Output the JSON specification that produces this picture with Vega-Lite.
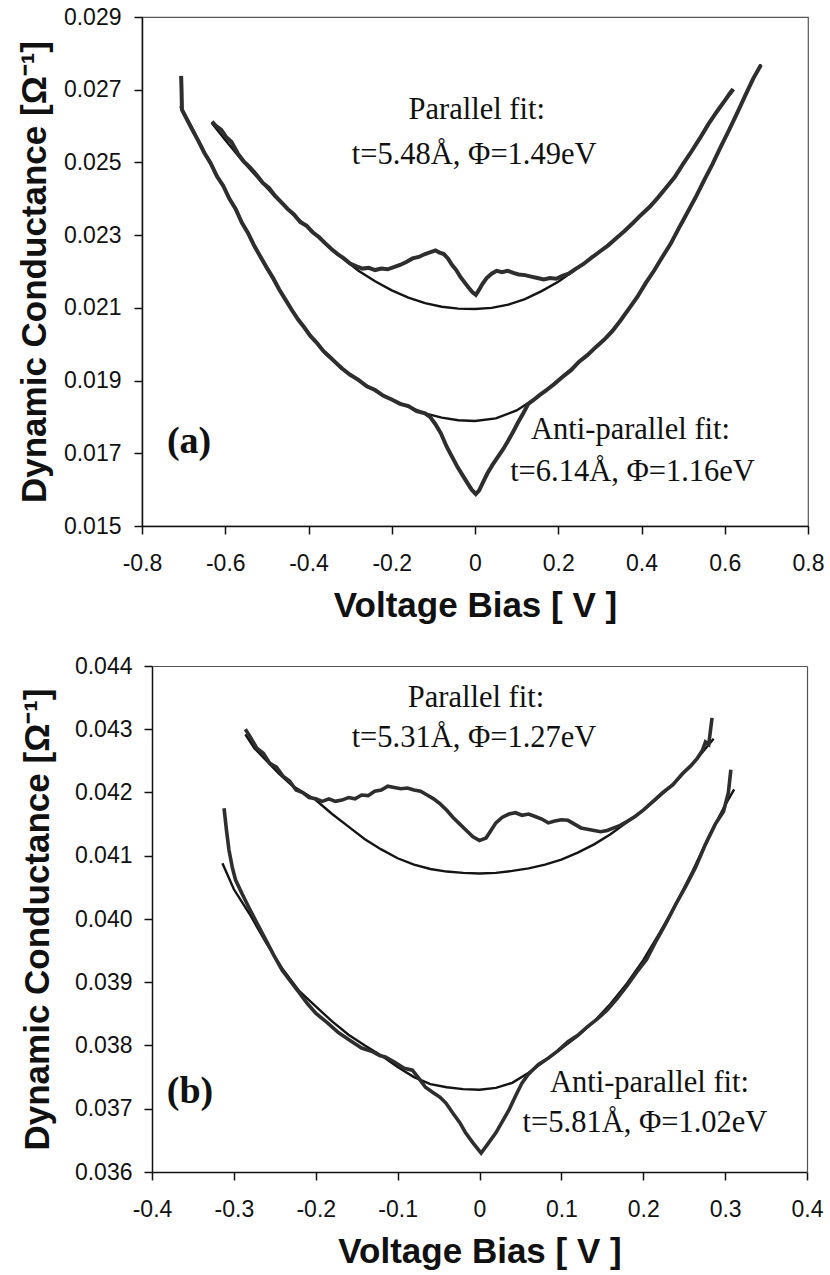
{
  "$schema": "https://vega.github.io/schema/vega-lite/v6.json",
  "background": "white",
  "padding": {"left": 16, "top": 5, "right": 5, "bottom": 5},
  "spacing": 31,
  "config": {
    "font": "Liberation Sans",
    "view": {"stroke": "#555", "strokeWidth": 1.2},
    "axis": {"grid": false, "domainColor": "#111", "domainWidth": 1.5, "tickColor": "#111", "tickWidth": 1.5, "tickSize": 8, "labelFont": "Liberation Sans", "labelFontSize": 23, "labelColor": "#111", "labelFlush": false, "labelOverlap": false, "titleFont": "Liberation Sans", "titleFontSize": 35, "titleFontWeight": "bold", "titleColor": "#111"},
    "axisX": {"labelPadding": 18, "titlePadding": 13},
    "axisY": {"labelPadding": 13, "titlePadding": 11}
  },
  "datasets": {
    "a": [
      {"s":"P","k":"fit","v":-0.632,"g":0.02608},{"s":"P","k":"fit","v":-0.6,"g":0.02562},{"s":"P","k":"fit","v":-0.56,"g":0.02506},{"s":"P","k":"fit","v":-0.52,"g":0.02455},{"s":"P","k":"fit","v":-0.48,"g":0.02405},{"s":"P","k":"fit","v":-0.44,"g":0.0236},{"s":"P","k":"fit","v":-0.4,"g":0.0232},{"s":"P","k":"fit","v":-0.36,"g":0.02276},{"s":"P","k":"fit","v":-0.32,"g":0.02238},{"s":"P","k":"fit","v":-0.28,"g":0.02202},{"s":"P","k":"fit","v":-0.24,"g":0.02173},{"s":"P","k":"fit","v":-0.2,"g":0.02148},{"s":"P","k":"fit","v":-0.16,"g":0.02128},{"s":"P","k":"fit","v":-0.12,"g":0.02113},{"s":"P","k":"fit","v":-0.08,"g":0.02103},{"s":"P","k":"fit","v":-0.04,"g":0.02098},{"s":"P","k":"fit","v":0,"g":0.02097},{"s":"P","k":"fit","v":0.04,"g":0.021},{"s":"P","k":"fit","v":0.08,"g":0.02109},{"s":"P","k":"fit","v":0.12,"g":0.02124},{"s":"P","k":"fit","v":0.16,"g":0.02146},{"s":"P","k":"fit","v":0.2,"g":0.02172},{"s":"P","k":"fit","v":0.24,"g":0.02204},{"s":"P","k":"fit","v":0.28,"g":0.02238},{"s":"P","k":"fit","v":0.32,"g":0.02273},{"s":"P","k":"fit","v":0.36,"g":0.02312},{"s":"P","k":"fit","v":0.4,"g":0.02355},{"s":"P","k":"fit","v":0.44,"g":0.02405},{"s":"P","k":"fit","v":0.48,"g":0.02462},{"s":"P","k":"fit","v":0.52,"g":0.0253},{"s":"P","k":"fit","v":0.56,"g":0.02605},{"s":"P","k":"fit","v":0.6,"g":0.02668},{"s":"P","k":"fit","v":0.622,"g":0.027},
      {"s":"Pd","k":"data","v":-0.632,"g":0.02612},{"s":"Pd","k":"data","v":-0.622,"g":0.026},{"s":"Pd","k":"data","v":-0.61,"g":0.0259},{"s":"Pd","k":"data","v":-0.598,"g":0.0257},{"s":"Pd","k":"data","v":-0.585,"g":0.02556},{"s":"Pd","k":"data","v":-0.57,"g":0.02525},{"s":"Pd","k":"data","v":-0.555,"g":0.02502},{"s":"Pd","k":"data","v":-0.54,"g":0.02486},{"s":"Pd","k":"data","v":-0.525,"g":0.02466},{"s":"Pd","k":"data","v":-0.51,"g":0.02444},{"s":"Pd","k":"data","v":-0.495,"g":0.0243},{"s":"Pd","k":"data","v":-0.48,"g":0.02408},{"s":"Pd","k":"data","v":-0.465,"g":0.0239},{"s":"Pd","k":"data","v":-0.45,"g":0.02372},{"s":"Pd","k":"data","v":-0.435,"g":0.02357},{"s":"Pd","k":"data","v":-0.42,"g":0.02336},{"s":"Pd","k":"data","v":-0.405,"g":0.02326},{"s":"Pd","k":"data","v":-0.39,"g":0.02308},{"s":"Pd","k":"data","v":-0.375,"g":0.02295},{"s":"Pd","k":"data","v":-0.36,"g":0.02278},{"s":"Pd","k":"data","v":-0.345,"g":0.02262},{"s":"Pd","k":"data","v":-0.33,"g":0.02248},{"s":"Pd","k":"data","v":-0.315,"g":0.02236},{"s":"Pd","k":"data","v":-0.3,"g":0.02222},{"s":"Pd","k":"data","v":-0.285,"g":0.02214},{"s":"Pd","k":"data","v":-0.27,"g":0.02208},{"s":"Pd","k":"data","v":-0.255,"g":0.0221},{"s":"Pd","k":"data","v":-0.24,"g":0.02204},{"s":"Pd","k":"data","v":-0.225,"g":0.02208},{"s":"Pd","k":"data","v":-0.21,"g":0.02206},{"s":"Pd","k":"data","v":-0.195,"g":0.02212},{"s":"Pd","k":"data","v":-0.18,"g":0.02218},{"s":"Pd","k":"data","v":-0.165,"g":0.02226},{"s":"Pd","k":"data","v":-0.15,"g":0.02236},{"s":"Pd","k":"data","v":-0.135,"g":0.0224},{"s":"Pd","k":"data","v":-0.12,"g":0.02248},{"s":"Pd","k":"data","v":-0.105,"g":0.02254},{"s":"Pd","k":"data","v":-0.095,"g":0.02258},{"s":"Pd","k":"data","v":-0.085,"g":0.02252},{"s":"Pd","k":"data","v":-0.075,"g":0.02248},{"s":"Pd","k":"data","v":-0.065,"g":0.02236},{"s":"Pd","k":"data","v":-0.055,"g":0.02218},{"s":"Pd","k":"data","v":-0.045,"g":0.02204},{"s":"Pd","k":"data","v":-0.035,"g":0.02185},{"s":"Pd","k":"data","v":-0.025,"g":0.0217},{"s":"Pd","k":"data","v":-0.015,"g":0.02155},{"s":"Pd","k":"data","v":-0.006,"g":0.02143},{"s":"Pd","k":"data","v":0.002,"g":0.02136},{"s":"Pd","k":"data","v":0.01,"g":0.0215},{"s":"Pd","k":"data","v":0.018,"g":0.02166},{"s":"Pd","k":"data","v":0.028,"g":0.02182},{"s":"Pd","k":"data","v":0.04,"g":0.02194},{"s":"Pd","k":"data","v":0.052,"g":0.02202},{"s":"Pd","k":"data","v":0.065,"g":0.02198},{"s":"Pd","k":"data","v":0.078,"g":0.02202},{"s":"Pd","k":"data","v":0.092,"g":0.02196},{"s":"Pd","k":"data","v":0.105,"g":0.02192},{"s":"Pd","k":"data","v":0.12,"g":0.0219},{"s":"Pd","k":"data","v":0.135,"g":0.02186},{"s":"Pd","k":"data","v":0.15,"g":0.02182},{"s":"Pd","k":"data","v":0.165,"g":0.02178},{"s":"Pd","k":"data","v":0.18,"g":0.02182},{"s":"Pd","k":"data","v":0.195,"g":0.0218},{"s":"Pd","k":"data","v":0.21,"g":0.02188},{"s":"Pd","k":"data","v":0.225,"g":0.02194},{"s":"Pd","k":"data","v":0.24,"g":0.02206},{"s":"Pd","k":"data","v":0.26,"g":0.0222},{"s":"Pd","k":"data","v":0.28,"g":0.02238},{"s":"Pd","k":"data","v":0.3,"g":0.02255},{"s":"Pd","k":"data","v":0.32,"g":0.02272},{"s":"Pd","k":"data","v":0.34,"g":0.02292},{"s":"Pd","k":"data","v":0.36,"g":0.02312},{"s":"Pd","k":"data","v":0.38,"g":0.02334},{"s":"Pd","k":"data","v":0.4,"g":0.02357},{"s":"Pd","k":"data","v":0.42,"g":0.02378},{"s":"Pd","k":"data","v":0.44,"g":0.02404},{"s":"Pd","k":"data","v":0.46,"g":0.02432},{"s":"Pd","k":"data","v":0.48,"g":0.0246},{"s":"Pd","k":"data","v":0.5,"g":0.02496},{"s":"Pd","k":"data","v":0.52,"g":0.0253},{"s":"Pd","k":"data","v":0.54,"g":0.02566},{"s":"Pd","k":"data","v":0.56,"g":0.02604},{"s":"Pd","k":"data","v":0.58,"g":0.02638},{"s":"Pd","k":"data","v":0.6,"g":0.0267},{"s":"Pd","k":"data","v":0.612,"g":0.0269},{"s":"Pd","k":"data","v":0.62,"g":0.02702},
      {"s":"A","k":"fit","v":-0.708,"g":0.02655},{"s":"A","k":"fit","v":-0.68,"g":0.02595},{"s":"A","k":"fit","v":-0.64,"g":0.02505},{"s":"A","k":"fit","v":-0.6,"g":0.02424},{"s":"A","k":"fit","v":-0.56,"g":0.02336},{"s":"A","k":"fit","v":-0.52,"g":0.02248},{"s":"A","k":"fit","v":-0.48,"g":0.02168},{"s":"A","k":"fit","v":-0.44,"g":0.02093},{"s":"A","k":"fit","v":-0.4,"g":0.0203},{"s":"A","k":"fit","v":-0.36,"g":0.01975},{"s":"A","k":"fit","v":-0.32,"g":0.01932},{"s":"A","k":"fit","v":-0.28,"g":0.019},{"s":"A","k":"fit","v":-0.24,"g":0.01872},{"s":"A","k":"fit","v":-0.2,"g":0.01847},{"s":"A","k":"fit","v":-0.16,"g":0.01828},{"s":"A","k":"fit","v":-0.12,"g":0.0181},{"s":"A","k":"fit","v":-0.08,"g":0.01798},{"s":"A","k":"fit","v":-0.04,"g":0.01791},{"s":"A","k":"fit","v":0,"g":0.01789},{"s":"A","k":"fit","v":0.05,"g":0.01796},{"s":"A","k":"fit","v":0.1,"g":0.01818},{"s":"A","k":"fit","v":0.15,"g":0.01855},{"s":"A","k":"fit","v":0.2,"g":0.01902},{"s":"A","k":"fit","v":0.25,"g":0.0195},{"s":"A","k":"fit","v":0.3,"g":0.02},{"s":"A","k":"fit","v":0.35,"g":0.02065},{"s":"A","k":"fit","v":0.4,"g":0.02148},{"s":"A","k":"fit","v":0.45,"g":0.02238},{"s":"A","k":"fit","v":0.5,"g":0.02337},{"s":"A","k":"fit","v":0.55,"g":0.02448},{"s":"A","k":"fit","v":0.6,"g":0.02565},{"s":"A","k":"fit","v":0.65,"g":0.02686},{"s":"A","k":"fit","v":0.687,"g":0.0277},
      {"s":"Ad","k":"data","v":-0.706,"g":0.02738},{"s":"Ad","k":"data","v":-0.705,"g":0.027},{"s":"Ad","k":"data","v":-0.704,"g":0.02645},{"s":"Ad","k":"data","v":-0.695,"g":0.02625},{"s":"Ad","k":"data","v":-0.68,"g":0.02592},{"s":"Ad","k":"data","v":-0.665,"g":0.0256},{"s":"Ad","k":"data","v":-0.65,"g":0.02526},{"s":"Ad","k":"data","v":-0.635,"g":0.02498},{"s":"Ad","k":"data","v":-0.62,"g":0.02462},{"s":"Ad","k":"data","v":-0.605,"g":0.02436},{"s":"Ad","k":"data","v":-0.59,"g":0.024},{"s":"Ad","k":"data","v":-0.575,"g":0.02372},{"s":"Ad","k":"data","v":-0.56,"g":0.02334},{"s":"Ad","k":"data","v":-0.545,"g":0.02305},{"s":"Ad","k":"data","v":-0.53,"g":0.0227},{"s":"Ad","k":"data","v":-0.515,"g":0.0224},{"s":"Ad","k":"data","v":-0.5,"g":0.0221},{"s":"Ad","k":"data","v":-0.485,"g":0.02182},{"s":"Ad","k":"data","v":-0.47,"g":0.0215},{"s":"Ad","k":"data","v":-0.455,"g":0.02122},{"s":"Ad","k":"data","v":-0.44,"g":0.02094},{"s":"Ad","k":"data","v":-0.425,"g":0.02068},{"s":"Ad","k":"data","v":-0.41,"g":0.02046},{"s":"Ad","k":"data","v":-0.395,"g":0.02022},{"s":"Ad","k":"data","v":-0.38,"g":0.02004},{"s":"Ad","k":"data","v":-0.365,"g":0.01982},{"s":"Ad","k":"data","v":-0.35,"g":0.01966},{"s":"Ad","k":"data","v":-0.335,"g":0.0195},{"s":"Ad","k":"data","v":-0.32,"g":0.01934},{"s":"Ad","k":"data","v":-0.3,"g":0.01916},{"s":"Ad","k":"data","v":-0.28,"g":0.01902},{"s":"Ad","k":"data","v":-0.26,"g":0.01884},{"s":"Ad","k":"data","v":-0.24,"g":0.01874},{"s":"Ad","k":"data","v":-0.22,"g":0.01858},{"s":"Ad","k":"data","v":-0.2,"g":0.01848},{"s":"Ad","k":"data","v":-0.18,"g":0.01836},{"s":"Ad","k":"data","v":-0.16,"g":0.0183},{"s":"Ad","k":"data","v":-0.14,"g":0.01816},{"s":"Ad","k":"data","v":-0.12,"g":0.0181},{"s":"Ad","k":"data","v":-0.108,"g":0.018},{"s":"Ad","k":"data","v":-0.095,"g":0.0178},{"s":"Ad","k":"data","v":-0.082,"g":0.01755},{"s":"Ad","k":"data","v":-0.068,"g":0.01718},{"s":"Ad","k":"data","v":-0.055,"g":0.0169},{"s":"Ad","k":"data","v":-0.042,"g":0.01662},{"s":"Ad","k":"data","v":-0.03,"g":0.0164},{"s":"Ad","k":"data","v":-0.018,"g":0.01618},{"s":"Ad","k":"data","v":-0.008,"g":0.016},{"s":"Ad","k":"data","v":0.002,"g":0.01588},{"s":"Ad","k":"data","v":0.01,"g":0.01598},{"s":"Ad","k":"data","v":0.02,"g":0.01622},{"s":"Ad","k":"data","v":0.03,"g":0.01645},{"s":"Ad","k":"data","v":0.042,"g":0.01668},{"s":"Ad","k":"data","v":0.055,"g":0.0169},{"s":"Ad","k":"data","v":0.068,"g":0.01712},{"s":"Ad","k":"data","v":0.08,"g":0.01735},{"s":"Ad","k":"data","v":0.092,"g":0.0176},{"s":"Ad","k":"data","v":0.104,"g":0.01786},{"s":"Ad","k":"data","v":0.116,"g":0.0181},{"s":"Ad","k":"data","v":0.128,"g":0.01836},{"s":"Ad","k":"data","v":0.14,"g":0.01846},{"s":"Ad","k":"data","v":0.155,"g":0.0186},{"s":"Ad","k":"data","v":0.17,"g":0.01872},{"s":"Ad","k":"data","v":0.19,"g":0.0189},{"s":"Ad","k":"data","v":0.21,"g":0.0191},{"s":"Ad","k":"data","v":0.23,"g":0.01928},{"s":"Ad","k":"data","v":0.25,"g":0.01952},{"s":"Ad","k":"data","v":0.27,"g":0.0197},{"s":"Ad","k":"data","v":0.29,"g":0.01992},{"s":"Ad","k":"data","v":0.31,"g":0.02012},{"s":"Ad","k":"data","v":0.33,"g":0.02036},{"s":"Ad","k":"data","v":0.35,"g":0.02066},{"s":"Ad","k":"data","v":0.37,"g":0.02098},{"s":"Ad","k":"data","v":0.39,"g":0.0213},{"s":"Ad","k":"data","v":0.41,"g":0.02168},{"s":"Ad","k":"data","v":0.43,"g":0.02202},{"s":"Ad","k":"data","v":0.45,"g":0.0224},{"s":"Ad","k":"data","v":0.47,"g":0.02276},{"s":"Ad","k":"data","v":0.49,"g":0.0232},{"s":"Ad","k":"data","v":0.51,"g":0.02362},{"s":"Ad","k":"data","v":0.53,"g":0.02404},{"s":"Ad","k":"data","v":0.55,"g":0.0245},{"s":"Ad","k":"data","v":0.57,"g":0.02494},{"s":"Ad","k":"data","v":0.59,"g":0.02542},{"s":"Ad","k":"data","v":0.61,"g":0.02588},{"s":"Ad","k":"data","v":0.63,"g":0.02636},{"s":"Ad","k":"data","v":0.65,"g":0.02686},{"s":"Ad","k":"data","v":0.668,"g":0.0273},{"s":"Ad","k":"data","v":0.687,"g":0.02768}
    ],
    "b": [
      {"s":"P","k":"fit","v":-0.286,"g":0.04292},{"s":"P","k":"fit","v":-0.275,"g":0.0427},{"s":"P","k":"fit","v":-0.26,"g":0.0425},{"s":"P","k":"fit","v":-0.245,"g":0.0423},{"s":"P","k":"fit","v":-0.23,"g":0.04212},{"s":"P","k":"fit","v":-0.215,"g":0.042},{"s":"P","k":"fit","v":-0.2,"g":0.04188},{"s":"P","k":"fit","v":-0.18,"g":0.04166},{"s":"P","k":"fit","v":-0.16,"g":0.04146},{"s":"P","k":"fit","v":-0.14,"g":0.04126},{"s":"P","k":"fit","v":-0.12,"g":0.0411},{"s":"P","k":"fit","v":-0.1,"g":0.04096},{"s":"P","k":"fit","v":-0.08,"g":0.04086},{"s":"P","k":"fit","v":-0.06,"g":0.04079},{"s":"P","k":"fit","v":-0.04,"g":0.04075},{"s":"P","k":"fit","v":-0.02,"g":0.04073},{"s":"P","k":"fit","v":0,"g":0.04072},{"s":"P","k":"fit","v":0.02,"g":0.04073},{"s":"P","k":"fit","v":0.04,"g":0.04076},{"s":"P","k":"fit","v":0.06,"g":0.0408},{"s":"P","k":"fit","v":0.08,"g":0.04086},{"s":"P","k":"fit","v":0.1,"g":0.04094},{"s":"P","k":"fit","v":0.12,"g":0.04105},{"s":"P","k":"fit","v":0.14,"g":0.04118},{"s":"P","k":"fit","v":0.16,"g":0.04134},{"s":"P","k":"fit","v":0.18,"g":0.04153},{"s":"P","k":"fit","v":0.2,"g":0.04172},{"s":"P","k":"fit","v":0.22,"g":0.04194},{"s":"P","k":"fit","v":0.24,"g":0.04218},{"s":"P","k":"fit","v":0.255,"g":0.04238},{"s":"P","k":"fit","v":0.27,"g":0.0426},{"s":"P","k":"fit","v":0.286,"g":0.04285},
      {"s":"Pd","k":"data","v":-0.286,"g":0.043},{"s":"Pd","k":"data","v":-0.28,"g":0.04288},{"s":"Pd","k":"data","v":-0.272,"g":0.0427},{"s":"Pd","k":"data","v":-0.264,"g":0.04262},{"s":"Pd","k":"data","v":-0.256,"g":0.04246},{"s":"Pd","k":"data","v":-0.248,"g":0.0424},{"s":"Pd","k":"data","v":-0.24,"g":0.04226},{"s":"Pd","k":"data","v":-0.232,"g":0.04218},{"s":"Pd","k":"data","v":-0.224,"g":0.04204},{"s":"Pd","k":"data","v":-0.216,"g":0.042},{"s":"Pd","k":"data","v":-0.208,"g":0.04192},{"s":"Pd","k":"data","v":-0.2,"g":0.0419},{"s":"Pd","k":"data","v":-0.192,"g":0.04186},{"s":"Pd","k":"data","v":-0.184,"g":0.0419},{"s":"Pd","k":"data","v":-0.176,"g":0.04186},{"s":"Pd","k":"data","v":-0.168,"g":0.04188},{"s":"Pd","k":"data","v":-0.16,"g":0.04192},{"s":"Pd","k":"data","v":-0.152,"g":0.0419},{"s":"Pd","k":"data","v":-0.144,"g":0.04196},{"s":"Pd","k":"data","v":-0.136,"g":0.04195},{"s":"Pd","k":"data","v":-0.128,"g":0.04202},{"s":"Pd","k":"data","v":-0.12,"g":0.04204},{"s":"Pd","k":"data","v":-0.112,"g":0.0421},{"s":"Pd","k":"data","v":-0.104,"g":0.04208},{"s":"Pd","k":"data","v":-0.096,"g":0.04206},{"s":"Pd","k":"data","v":-0.088,"g":0.04207},{"s":"Pd","k":"data","v":-0.08,"g":0.04204},{"s":"Pd","k":"data","v":-0.072,"g":0.04202},{"s":"Pd","k":"data","v":-0.064,"g":0.04196},{"s":"Pd","k":"data","v":-0.056,"g":0.0419},{"s":"Pd","k":"data","v":-0.048,"g":0.04182},{"s":"Pd","k":"data","v":-0.04,"g":0.04172},{"s":"Pd","k":"data","v":-0.032,"g":0.0416},{"s":"Pd","k":"data","v":-0.024,"g":0.0415},{"s":"Pd","k":"data","v":-0.016,"g":0.0414},{"s":"Pd","k":"data","v":-0.008,"g":0.0413},{"s":"Pd","k":"data","v":0,"g":0.04124},{"s":"Pd","k":"data","v":0.008,"g":0.04128},{"s":"Pd","k":"data","v":0.014,"g":0.0414},{"s":"Pd","k":"data","v":0.02,"g":0.04152},{"s":"Pd","k":"data","v":0.028,"g":0.04161},{"s":"Pd","k":"data","v":0.036,"g":0.04166},{"s":"Pd","k":"data","v":0.044,"g":0.04168},{"s":"Pd","k":"data","v":0.052,"g":0.04164},{"s":"Pd","k":"data","v":0.06,"g":0.04166},{"s":"Pd","k":"data","v":0.068,"g":0.04162},{"s":"Pd","k":"data","v":0.076,"g":0.04158},{"s":"Pd","k":"data","v":0.084,"g":0.04152},{"s":"Pd","k":"data","v":0.092,"g":0.04155},{"s":"Pd","k":"data","v":0.1,"g":0.04157},{"s":"Pd","k":"data","v":0.108,"g":0.04156},{"s":"Pd","k":"data","v":0.116,"g":0.0415},{"s":"Pd","k":"data","v":0.124,"g":0.04144},{"s":"Pd","k":"data","v":0.132,"g":0.04142},{"s":"Pd","k":"data","v":0.14,"g":0.0414},{"s":"Pd","k":"data","v":0.148,"g":0.04138},{"s":"Pd","k":"data","v":0.156,"g":0.0414},{"s":"Pd","k":"data","v":0.164,"g":0.04144},{"s":"Pd","k":"data","v":0.172,"g":0.04148},{"s":"Pd","k":"data","v":0.18,"g":0.04154},{"s":"Pd","k":"data","v":0.19,"g":0.04162},{"s":"Pd","k":"data","v":0.2,"g":0.04172},{"s":"Pd","k":"data","v":0.212,"g":0.04186},{"s":"Pd","k":"data","v":0.224,"g":0.042},{"s":"Pd","k":"data","v":0.236,"g":0.04212},{"s":"Pd","k":"data","v":0.248,"g":0.0423},{"s":"Pd","k":"data","v":0.258,"g":0.04242},{"s":"Pd","k":"data","v":0.266,"g":0.04254},{"s":"Pd","k":"data","v":0.272,"g":0.04266},{"s":"Pd","k":"data","v":0.276,"g":0.0428},{"s":"Pd","k":"data","v":0.28,"g":0.04276},{"s":"Pd","k":"data","v":0.284,"g":0.04318},
      {"s":"A","k":"fit","v":-0.314,"g":0.04088},{"s":"A","k":"fit","v":-0.3,"g":0.04047},{"s":"A","k":"fit","v":-0.28,"g":0.04006},{"s":"A","k":"fit","v":-0.26,"g":0.03961},{"s":"A","k":"fit","v":-0.24,"g":0.0392},{"s":"A","k":"fit","v":-0.22,"g":0.03886},{"s":"A","k":"fit","v":-0.2,"g":0.03862},{"s":"A","k":"fit","v":-0.18,"g":0.03838},{"s":"A","k":"fit","v":-0.16,"g":0.03817},{"s":"A","k":"fit","v":-0.14,"g":0.038},{"s":"A","k":"fit","v":-0.12,"g":0.03784},{"s":"A","k":"fit","v":-0.1,"g":0.03766},{"s":"A","k":"fit","v":-0.08,"g":0.0375},{"s":"A","k":"fit","v":-0.06,"g":0.03739},{"s":"A","k":"fit","v":-0.04,"g":0.03734},{"s":"A","k":"fit","v":-0.02,"g":0.03731},{"s":"A","k":"fit","v":0,"g":0.0373},{"s":"A","k":"fit","v":0.02,"g":0.03733},{"s":"A","k":"fit","v":0.04,"g":0.03741},{"s":"A","k":"fit","v":0.06,"g":0.03757},{"s":"A","k":"fit","v":0.08,"g":0.03776},{"s":"A","k":"fit","v":0.1,"g":0.03795},{"s":"A","k":"fit","v":0.12,"g":0.03815},{"s":"A","k":"fit","v":0.14,"g":0.03838},{"s":"A","k":"fit","v":0.16,"g":0.03866},{"s":"A","k":"fit","v":0.18,"g":0.03898},{"s":"A","k":"fit","v":0.2,"g":0.03935},{"s":"A","k":"fit","v":0.22,"g":0.03978},{"s":"A","k":"fit","v":0.24,"g":0.04024},{"s":"A","k":"fit","v":0.26,"g":0.04075},{"s":"A","k":"fit","v":0.28,"g":0.0413},{"s":"A","k":"fit","v":0.3,"g":0.0418},{"s":"A","k":"fit","v":0.311,"g":0.04205},
      {"s":"Ad","k":"data","v":-0.312,"g":0.04175},{"s":"Ad","k":"data","v":-0.309,"g":0.0414},{"s":"Ad","k":"data","v":-0.306,"g":0.04109},{"s":"Ad","k":"data","v":-0.302,"g":0.04082},{"s":"Ad","k":"data","v":-0.298,"g":0.04062},{"s":"Ad","k":"data","v":-0.29,"g":0.0404},{"s":"Ad","k":"data","v":-0.282,"g":0.04019},{"s":"Ad","k":"data","v":-0.272,"g":0.03994},{"s":"Ad","k":"data","v":-0.261,"g":0.03967},{"s":"Ad","k":"data","v":-0.251,"g":0.03942},{"s":"Ad","k":"data","v":-0.241,"g":0.03919},{"s":"Ad","k":"data","v":-0.23,"g":0.039},{"s":"Ad","k":"data","v":-0.22,"g":0.03883},{"s":"Ad","k":"data","v":-0.21,"g":0.03866},{"s":"Ad","k":"data","v":-0.2,"g":0.03851},{"s":"Ad","k":"data","v":-0.186,"g":0.03836},{"s":"Ad","k":"data","v":-0.172,"g":0.0382},{"s":"Ad","k":"data","v":-0.158,"g":0.03808},{"s":"Ad","k":"data","v":-0.144,"g":0.03796},{"s":"Ad","k":"data","v":-0.13,"g":0.0379},{"s":"Ad","k":"data","v":-0.122,"g":0.03784},{"s":"Ad","k":"data","v":-0.115,"g":0.03782},{"s":"Ad","k":"data","v":-0.104,"g":0.03774},{"s":"Ad","k":"data","v":-0.092,"g":0.03764},{"s":"Ad","k":"data","v":-0.082,"g":0.03761},{"s":"Ad","k":"data","v":-0.074,"g":0.03748},{"s":"Ad","k":"data","v":-0.066,"g":0.03734},{"s":"Ad","k":"data","v":-0.056,"g":0.03725},{"s":"Ad","k":"data","v":-0.048,"g":0.03718},{"s":"Ad","k":"data","v":-0.041,"g":0.03709},{"s":"Ad","k":"data","v":-0.032,"g":0.03692},{"s":"Ad","k":"data","v":-0.024,"g":0.03678},{"s":"Ad","k":"data","v":-0.017,"g":0.03662},{"s":"Ad","k":"data","v":-0.008,"g":0.03646},{"s":"Ad","k":"data","v":0.002,"g":0.0363},{"s":"Ad","k":"data","v":0.01,"g":0.03644},{"s":"Ad","k":"data","v":0.02,"g":0.03662},{"s":"Ad","k":"data","v":0.028,"g":0.0368},{"s":"Ad","k":"data","v":0.036,"g":0.03698},{"s":"Ad","k":"data","v":0.044,"g":0.0372},{"s":"Ad","k":"data","v":0.052,"g":0.03741},{"s":"Ad","k":"data","v":0.06,"g":0.03755},{"s":"Ad","k":"data","v":0.072,"g":0.0377},{"s":"Ad","k":"data","v":0.084,"g":0.0378},{"s":"Ad","k":"data","v":0.096,"g":0.03792},{"s":"Ad","k":"data","v":0.108,"g":0.03806},{"s":"Ad","k":"data","v":0.12,"g":0.03816},{"s":"Ad","k":"data","v":0.132,"g":0.0383},{"s":"Ad","k":"data","v":0.144,"g":0.03842},{"s":"Ad","k":"data","v":0.156,"g":0.03856},{"s":"Ad","k":"data","v":0.168,"g":0.03874},{"s":"Ad","k":"data","v":0.18,"g":0.03894},{"s":"Ad","k":"data","v":0.192,"g":0.03916},{"s":"Ad","k":"data","v":0.204,"g":0.03936},{"s":"Ad","k":"data","v":0.216,"g":0.03966},{"s":"Ad","k":"data","v":0.228,"g":0.03994},{"s":"Ad","k":"data","v":0.24,"g":0.04024},{"s":"Ad","k":"data","v":0.252,"g":0.04052},{"s":"Ad","k":"data","v":0.264,"g":0.04082},{"s":"Ad","k":"data","v":0.276,"g":0.04118},{"s":"Ad","k":"data","v":0.288,"g":0.0415},{"s":"Ad","k":"data","v":0.298,"g":0.0417},{"s":"Ad","k":"data","v":0.304,"g":0.042},{"s":"Ad","k":"data","v":0.307,"g":0.04236}
    ],
    "ta": [
      {"v":0.004,"g":0.02619,"t":"Parallel fit:"},
      {"v":-0.002,"g":0.02496,"t":"t=5.48Å, Φ=1.49eV"},
      {"v":0.3736,"g":0.01739,"t":"Anti-parallel fit:"},
      {"v":0.3784,"g":0.01624,"t":"t=6.14Å, Φ=1.16eV"}
    ],
    "la": [{"v":-0.687,"g":0.01701,"t":"(a)"}],
    "tb": [
      {"v":-0.0043,"g":0.04335,"t":"Parallel fit:"},
      {"v":-0.0067,"g":0.04272,"t":"t=5.31Å, Φ=1.27eV"},
      {"v":0.2076,"g":0.037265,"t":"Anti-parallel fit:"},
      {"v":0.2021,"g":0.036632,"t":"t=5.81Å, Φ=1.02eV"}
    ],
    "lb": [{"v":-0.3536,"g":0.037091,"t":"(b)"}]
  },
  "vconcat": [
    {
      "width": 666,
      "height": 509,
      "resolve": {"axis": {"x": "independent", "y": "independent"}},
      "layer": [
        {
          "data": {"name": "a"},
          "transform": [{"filter": "datum.k == 'fit'"}],
          "mark": {"type": "line", "strokeWidth": 2.4, "color": "#141414"},
          "encoding": {
            "x": {"field": "v", "type": "quantitative", "scale": {"domain": [-0.8, 0.8], "nice": false, "zero": false},
                  "axis": {"orient": "bottom", "title": "Voltage Bias [ V ]", "values": [-0.8,-0.6,-0.4,-0.2,0,0.2,0.4,0.6,0.8],
                           "labelExpr": "datum.value == 0 ? '0' : (datum.value < 0 ? '-' + format(-datum.value, '.1f') : format(datum.value, '.1f'))"}},
            "y": {"field": "g", "type": "quantitative", "scale": {"domain": [0.015, 0.029], "nice": false, "zero": false},
                  "axis": {"orient": "left", "title": "Dynamic Conductance [Ω⁻¹]", "values": [0.015,0.017,0.019,0.021,0.023,0.025,0.027,0.029], "format": ".3f"}},
            "detail": {"field": "s"}
          }
        },
        {
          "data": {"name": "a"},
          "transform": [{"filter": "datum.k == 'data'"}],
          "mark": {"type": "line", "strokeWidth": 4, "color": "#2e2e2e"},
          "encoding": {
            "x": {"field": "v", "type": "quantitative", "axis": null},
            "y": {"field": "g", "type": "quantitative", "axis": null},
            "detail": {"field": "s"}
          }
        },
        {
          "data": {"name": "ta"},
          "mark": {"type": "text", "font": "Liberation Serif", "fontSize": 30.5, "align": "center", "baseline": "alphabetic", "color": "#111"},
          "encoding": {
            "x": {"field": "v", "type": "quantitative", "axis": null},
            "y": {"field": "g", "type": "quantitative", "axis": null},
            "text": {"field": "t"}
          }
        },
        {
          "data": {"name": "la"},
          "mark": {"type": "text", "font": "Liberation Serif", "fontSize": 38, "fontWeight": "bold", "align": "center", "baseline": "alphabetic", "color": "#111"},
          "encoding": {
            "x": {"field": "v", "type": "quantitative", "axis": null},
            "y": {"field": "g", "type": "quantitative", "axis": null},
            "text": {"field": "t"}
          }
        }
      ]
    },
    {
      "width": 665,
      "height": 506,
      "view": {"stroke": null},
      "resolve": {"axis": {"x": "independent", "y": "independent"}},
      "layer": [
        {
          "data": {"name": "b"},
          "transform": [{"filter": "datum.k == 'fit'"}],
          "mark": {"type": "line", "strokeWidth": 2.4, "color": "#141414"},
          "encoding": {
            "x": {"field": "v", "type": "quantitative", "scale": {"domain": [-0.4, 0.4], "range": [10, 665], "nice": false, "zero": false},
                  "axis": {"orient": "bottom", "title": "Voltage Bias [ V ]", "values": [-0.4,-0.3,-0.2,-0.1,0,0.1,0.2,0.3,0.4],
                           "labelExpr": "datum.value == 0 ? '0' : (datum.value < 0 ? '-' + format(-datum.value, '.1f') : format(datum.value, '.1f'))"}},
            "y": {"field": "g", "type": "quantitative", "scale": {"domain": [0.036, 0.044], "nice": false, "zero": false},
                  "axis": {"orient": "left", "offset": -10, "labelPadding": 12, "titlePadding": 19, "title": "Dynamic Conductance [Ω⁻¹]", "values": [0.036,0.037,0.038,0.039,0.04,0.041,0.042,0.043,0.044], "format": ".3f"}},
            "detail": {"field": "s"}
          }
        },
        {
          "data": {"name": "b"},
          "transform": [{"filter": "datum.k == 'data'"}],
          "mark": {"type": "line", "strokeWidth": 3.6, "color": "#2e2e2e"},
          "encoding": {
            "x": {"field": "v", "type": "quantitative", "axis": {"orient": "top", "labels": false, "ticks": false, "title": null, "domainColor": "#555", "domainWidth": 1.2}},
            "y": {"field": "g", "type": "quantitative", "axis": {"orient": "right", "labels": false, "ticks": false, "title": null, "domainColor": "#555", "domainWidth": 1.2}},
            "detail": {"field": "s"}
          }
        },
        {
          "data": {"name": "tb"},
          "mark": {"type": "text", "font": "Liberation Serif", "fontSize": 30.5, "align": "center", "baseline": "alphabetic", "color": "#111"},
          "encoding": {
            "x": {"field": "v", "type": "quantitative", "axis": null},
            "y": {"field": "g", "type": "quantitative", "axis": null},
            "text": {"field": "t"}
          }
        },
        {
          "data": {"name": "lb"},
          "mark": {"type": "text", "font": "Liberation Serif", "fontSize": 38, "fontWeight": "bold", "align": "center", "baseline": "alphabetic", "color": "#111"},
          "encoding": {
            "x": {"field": "v", "type": "quantitative", "axis": null},
            "y": {"field": "g", "type": "quantitative", "axis": null},
            "text": {"field": "t"}
          }
        }
      ]
    }
  ]
}
